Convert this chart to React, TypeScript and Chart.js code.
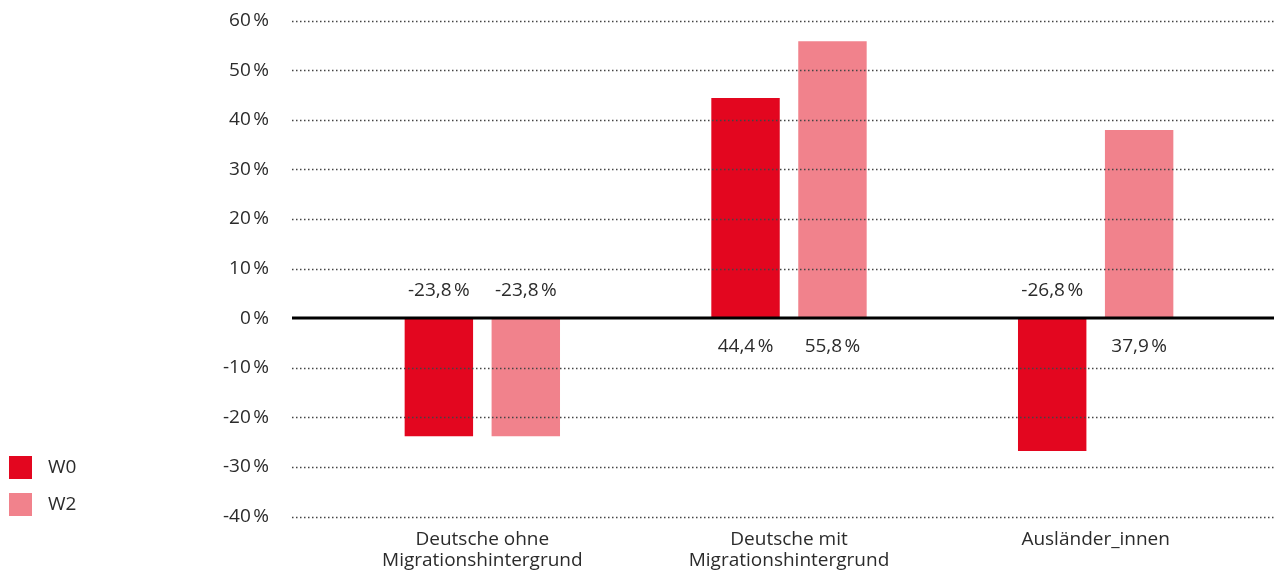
import React, { useEffect, useRef } from "react";
import { Chart, registerables } from "chart.js";

Chart.register(...registerables);

const categories: string[][] = [
  ["Deutsche ohne", "Migrationshintergrund"],
  ["Deutsche mit", "Migrationshintergrund"],
  ["Ausländer_innen"],
];
const seriesNames = ["W0", "W2"];
const w0Values = [-23.8, 44.4, -26.8];
const w2Values = [-23.8, 55.8, 37.9];
const yMin = -40;
const yMax = 60;
const yStep = 10;

const RED = "#E3061F";
const PINK = "#F1828C";
const TEXT = "#2b2b2b";
const FONT = "'Open Sans', 'Noto Sans', sans-serif";
const FONT_SIZE = 19;

const fmtPct = (v: number) => `${v.toFixed(1).replace(".", ",")}\u202F%`;

const overlayPlugin = {
  id: "overlay",
  afterDatasetsDraw(chart: any) {
    const ctx = chart.ctx;
    const y = chart.scales.y;
    const W = chart.width;
    const gridLeft = 292;
    ctx.save();
    y.ticks.forEach((t: any) => {
      if (t.value === 0) return;
      const py = Math.round(y.getPixelForValue(t.value)) + 0.5;
      ctx.beginPath();
      ctx.setLineDash([1.5, 2.5]);
      ctx.lineWidth = 1.5;
      ctx.strokeStyle = "#444";
      ctx.moveTo(gridLeft, py);
      ctx.lineTo(W, py);
      ctx.stroke();
    });
    const zy = y.getPixelForValue(0);
    ctx.setLineDash([]);
    ctx.beginPath();
    ctx.lineWidth = 3;
    ctx.strokeStyle = "#000";
    ctx.moveTo(gridLeft, zy);
    ctx.lineTo(W, zy);
    ctx.stroke();
    ctx.font = `${FONT_SIZE}px ${FONT}`;
    ctx.fillStyle = TEXT;
    ctx.textAlign = "center";
    ctx.textBaseline = "middle";
    chart.data.datasets.forEach((ds: any, di: number) => {
      const meta = chart.getDatasetMeta(di);
      meta.data.forEach((el: any, i: number) => {
        const v = ds.data[i] as number;
        const ly = v < 0 ? zy - 28 : zy + 28;
        ctx.fillText(fmtPct(v), el.x, ly);
      });
    });
    const legendY = [456, 493];
    chart.data.datasets.forEach((ds: any, di: number) => {
      ctx.fillStyle = ds.backgroundColor;
      ctx.fillRect(9, legendY[di], 23, 23);
      ctx.fillStyle = TEXT;
      ctx.textAlign = "left";
      ctx.fillText(ds.label, 48, legendY[di] + 12);
    });
    ctx.restore();
  },
};

export default function App() {
  const ref = useRef<HTMLCanvasElement | null>(null);
  useEffect(() => {
    if (!ref.current) return;
    const chart = new Chart(ref.current, {
      type: "bar",
      data: {
        labels: categories as any,
        datasets: [
          { label: seriesNames[0], data: w0Values, backgroundColor: RED },
          { label: seriesNames[1], data: w2Values, backgroundColor: PINK },
        ],
      },
      options: {
        responsive: false,
        animation: false,
        devicePixelRatio: 1,
        layout: { padding: { left: 0, right: 25, top: 20.5, bottom: 0 } },
        datasets: { bar: { categoryPercentage: 0.567, barPercentage: 0.787 } } as any,
        plugins: { legend: { display: false }, tooltip: { enabled: false } },
        scales: {
          x: {
            grid: { display: false },
            border: { display: false },
            ticks: {
              color: TEXT,
              font: { family: FONT, size: FONT_SIZE, lineHeight: 1.1 },
              padding: 5,
              maxRotation: 0,
              autoSkip: false,
            },
            afterFit: (s: any) => {
              s.height = 58.5;
            },
          },
          y: {
            min: yMin,
            max: yMax,
            grid: { display: false },
            border: { display: false },
            ticks: {
              stepSize: yStep,
              color: TEXT,
              font: { family: FONT, size: FONT_SIZE },
              padding: 52,
              callback: (v: any) => `${v}\u202F%`,
            },
            afterFit: (s: any) => {
              s.width = 329;
              s.paddingTop = 10;
              s.paddingBottom = 10;
            },
          },
        },
      },
      plugins: [overlayPlugin],
    });
    return () => chart.destroy();
  }, []);
  return (
    <div style={{ position: "fixed", left: 0, top: 0, width: 1274, height: 575, background: "#fff" }}>
      <canvas ref={ref} width={1274} height={575} style={{ display: "block" }} />
    </div>
  );
}
